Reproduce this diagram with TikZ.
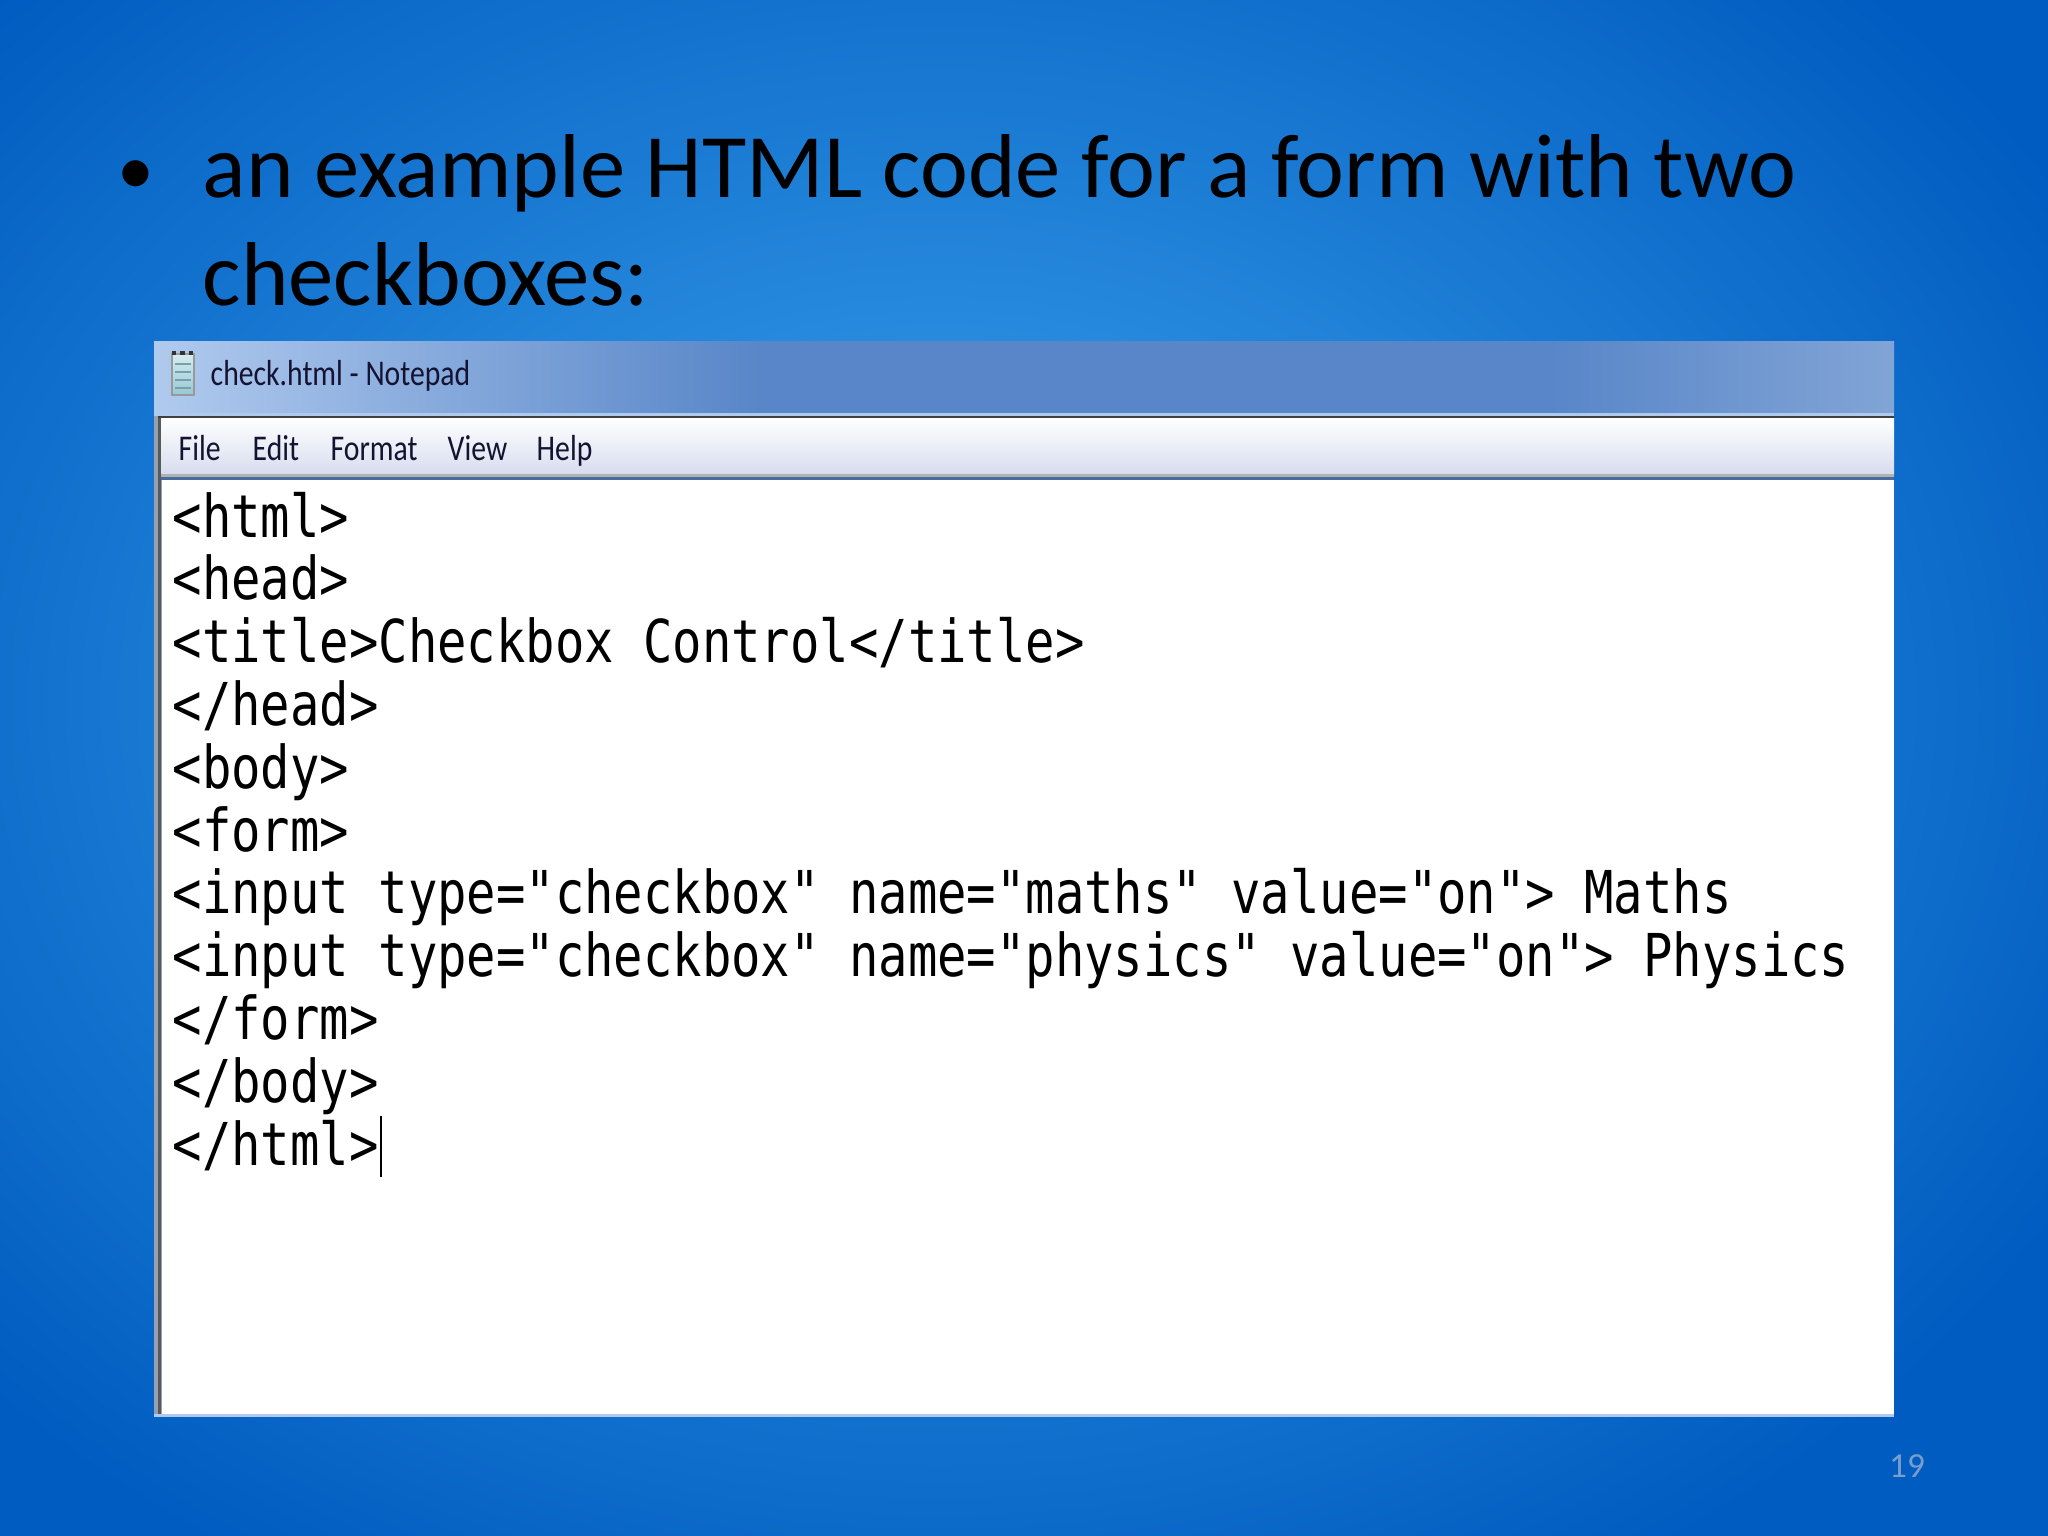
\documentclass[tikz,border=0pt]{standalone}
\usepackage{fontspec}
\setmainfont{Carlito}
\newfontfamily\codefont[FakeStretch=0.827]{DejaVu Sans Mono}
\newfontfamily\uifont[FakeStretch=0.82]{Carlito}
\usetikzlibrary{positioning}
\definecolor{bgdark}{RGB}{0,92,192}
\definecolor{bgglow}{RGB}{62,164,238}
\definecolor{titlelight}{RGB}{176,202,238}
\definecolor{titledark}{RGB}{88,134,200}
\definecolor{menulow}{RGB}{216,220,238}
\definecolor{framegray}{RGB}{150,160,180}
\definecolor{menutext}{RGB}{20,20,50}
\definecolor{pagegray}{RGB}{120,158,205}
\definecolor{iconlight}{RGB}{214,236,240}
\definecolor{icondark}{RGB}{150,200,214}
\begin{document}
\begin{tikzpicture}[x=0.01cm, y=-0.01cm,
  bullettext/.style={anchor=base west, inner sep=0, font=\fontsize{25.8pt}{30pt}\selectfont},
  codeline/.style={anchor=base west, inner sep=0, font=\codefont\fontsize{16.8pt}{18pt}\selectfont},
  menuitem/.style={anchor=base west, inner sep=0, text=menutext, font=\uifont\fontsize{10.3pt}{12pt}\selectfont}]
\useasboundingbox (0,0) rectangle (2048,1536);
% slide background
\fill[bgdark] (0,0) rectangle (2048,1536);
\shade[inner color=bgglow, outer color=bgdark] (940,700) ellipse [x radius=1300, y radius=1020];
% bullet
\node[bullettext, font=\fontsize{21pt}{30pt}\selectfont] (dot) at (117,194) {•};
\node[bullettext] (line1) at (202,197) {an example HTML code for a form with two};
\node[bullettext] (line2) at (202,305) {checkboxes:};
% notepad window
\fill[framegray] (154,341) rectangle (1894,1417);
\shade[left color=titlelight, right color=titledark] (154,341) rectangle (760,413);
\fill[titledark] (760,341) rectangle (1894,413);
\shade[left color=titledark, right color=titledark!75!white] (1550,341) rectangle (1894,413);
\fill[titlelight] (154,413) rectangle (1894,416);
\fill[black!75] (158,416) rectangle (1894,418);
\shade[top color=white, bottom color=menulow] (160,418) rectangle (1894,474);
\fill[black!30] (160,474) rectangle (1894,477);
\fill[titledark!80!black] (160,477) rectangle (1894,480);
\fill[white] (162,480) rectangle (1894,1417);
\fill[black!65] (158,418) rectangle (161,1417);
\fill[titlelight] (154,1414) rectangle (1894,1417);
% notepad icon
\shade[top color=iconlight, bottom color=icondark, draw=black!40, line width=0.3pt] (172,354) rectangle (194,395);
\foreach \r in {364,372,380,388}
  \draw[icondark!80!black, line width=0.4pt] (175,\r) -- (191,\r);
\draw[black!80, line width=1.2pt, dash pattern=on 1.2pt off 1.2pt] (172,353) -- (194,353);
\node[menuitem] (title) at (210,385) {check.html - Notepad};
% menu bar
\node[menuitem] (file) at (178,460) {File};
\node[menuitem] (edit) at (252,460) {Edit};
\node[menuitem] (format) at (330,460) {Format};
\node[menuitem] (view) at (447,460) {View};
\node[menuitem] (help) at (536,460) {Help};
% code lines
\foreach \src [count=\i] in {<html>, <head>, <title>Checkbox Control</title>, </head>, <body>, <form>,
  <input type="checkbox" name="maths" value="on"> Maths,
  <input type="checkbox" name="physics" value="on"> Physics,
  </form>, </body>, </html>}
  \node[codeline] (code\i) at (172,{537+62.8*(\i-1)}) {\src};
\coordinate (carettop) at ([shift={(2,-49)}]code11.base east);
\coordinate (caretbot) at ([shift={(2,12)}]code11.base east);
\draw[line width=0.6pt] (carettop) -- (caretbot);
% page number
\node[anchor=base, inner sep=0, text=pagegray, font=\fontsize{10pt}{12pt}\selectfont] (page) at (1907,1477) {19};
\end{tikzpicture}
\end{document}
